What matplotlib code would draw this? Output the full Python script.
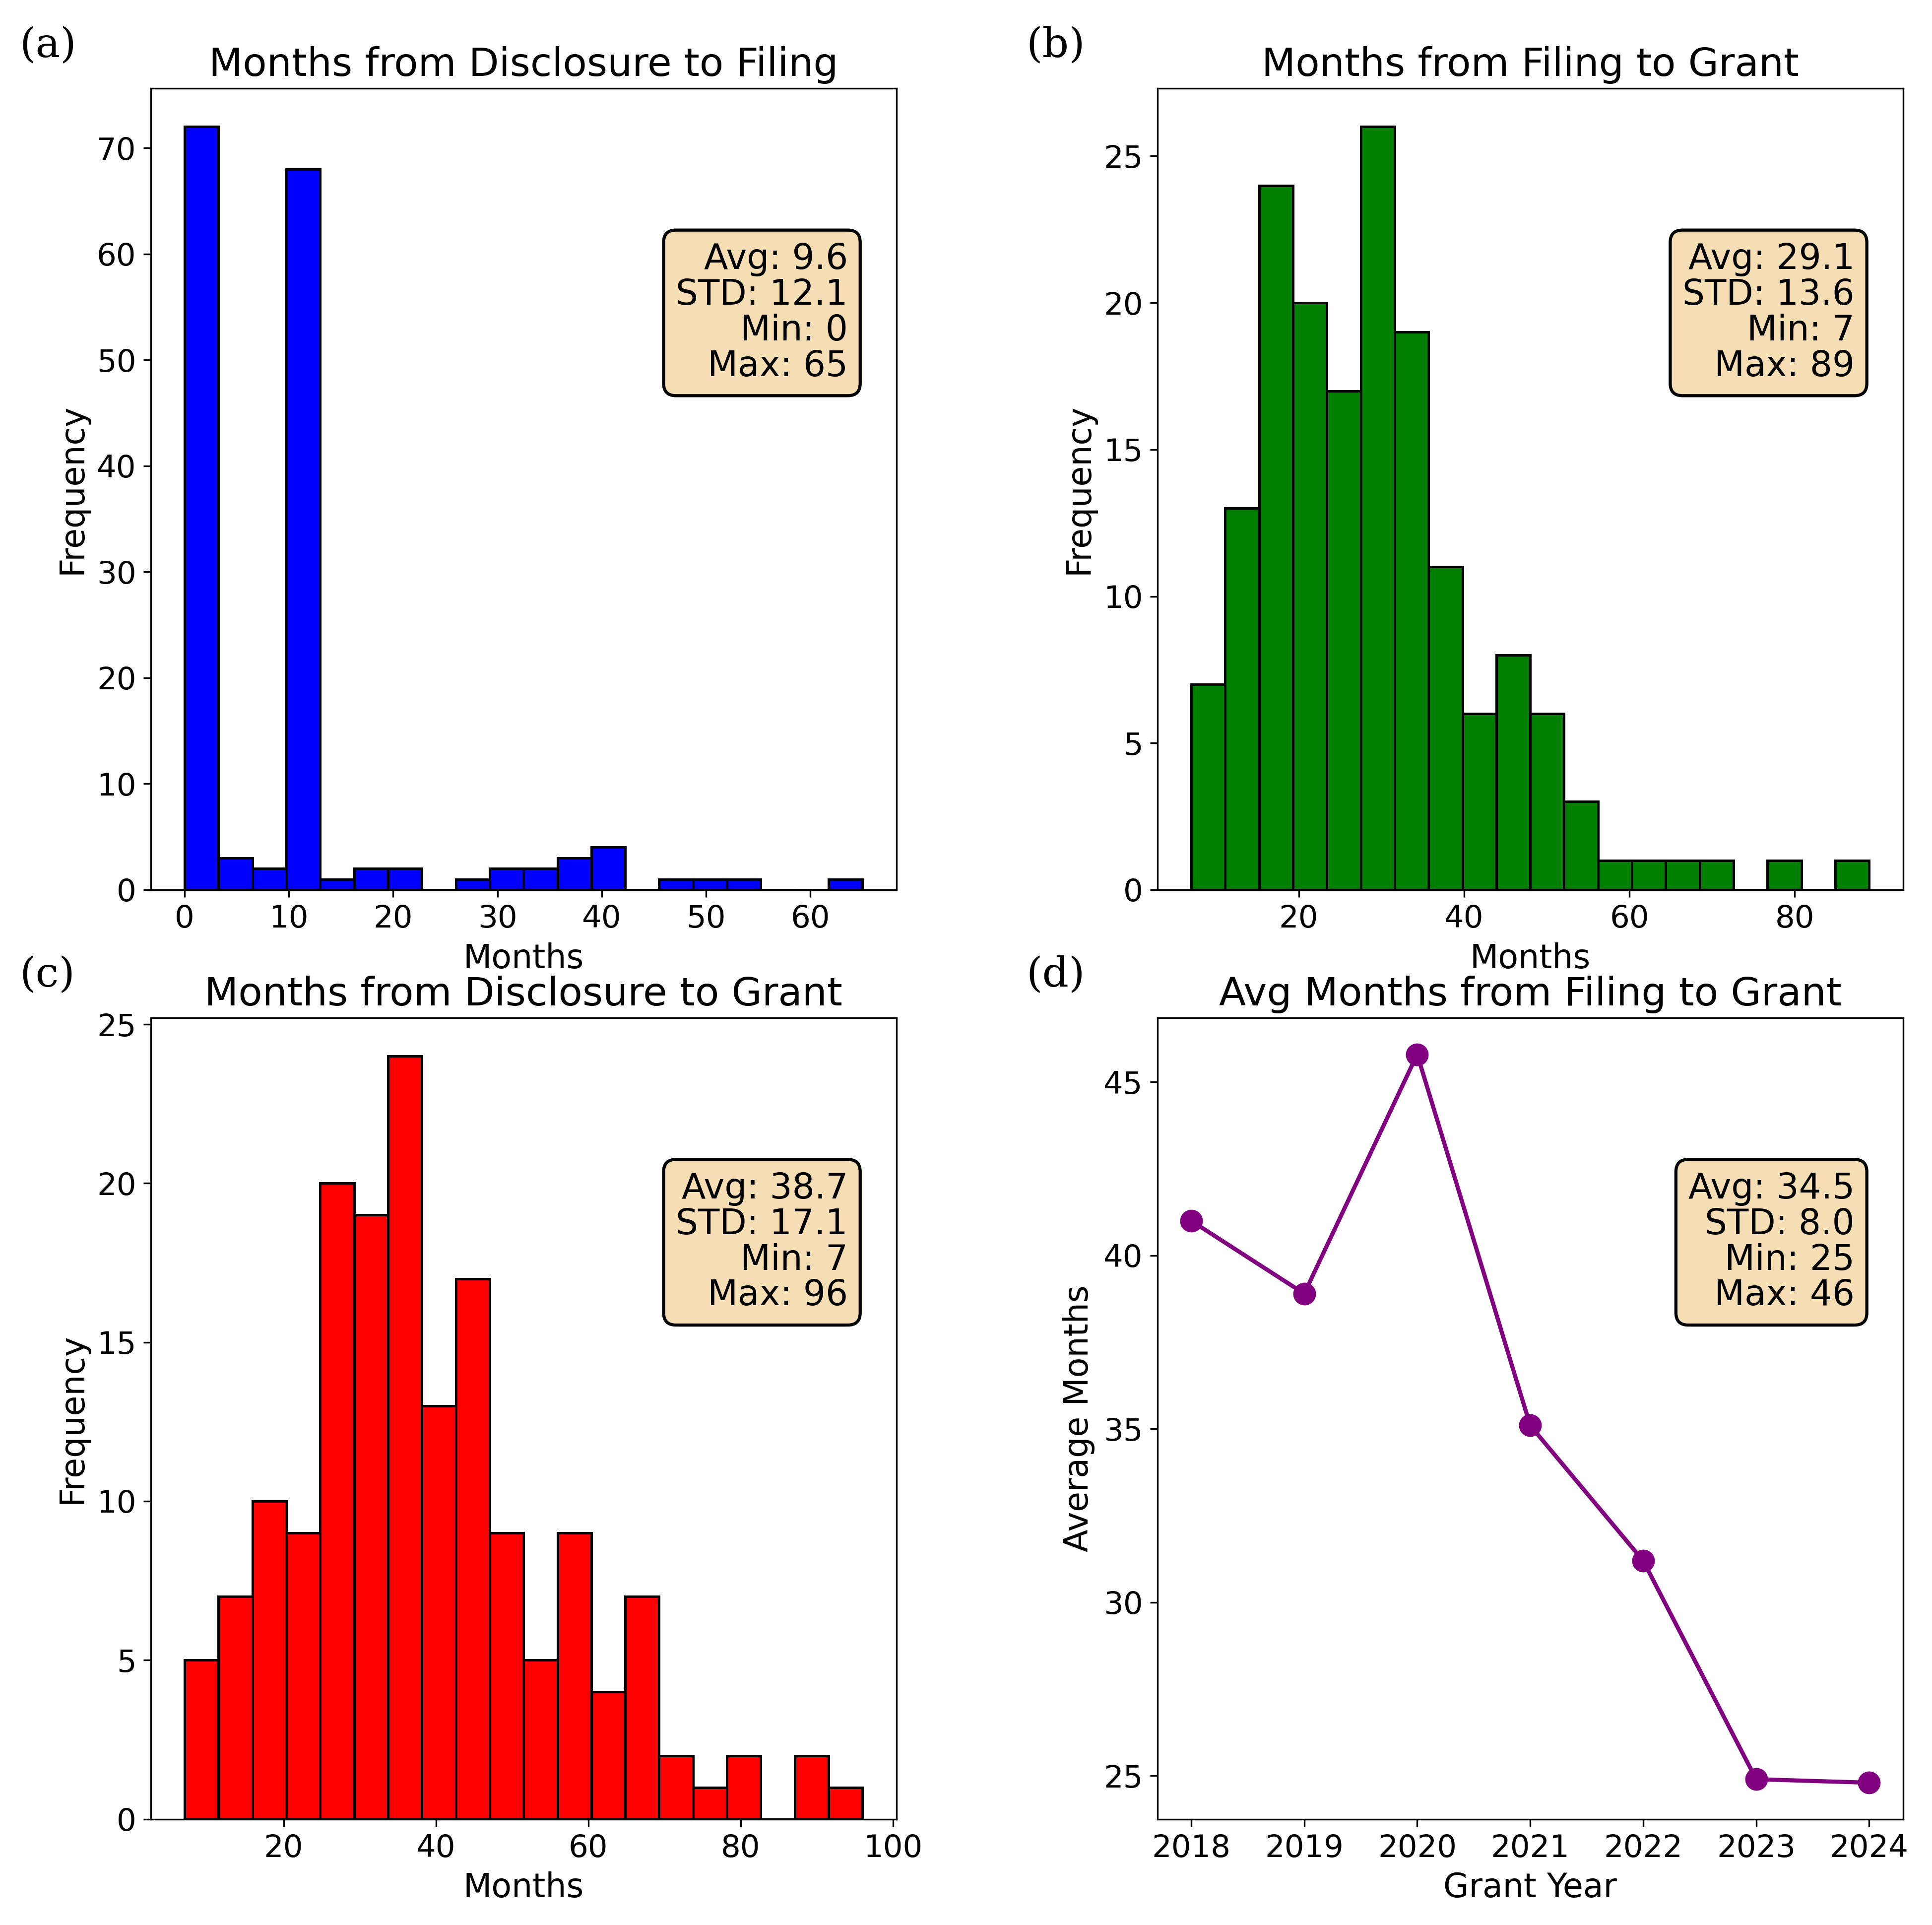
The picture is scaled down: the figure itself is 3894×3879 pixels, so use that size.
import numpy as np
import matplotlib.pyplot as plt

# histogram counts (20 bins each)
disc_filing_counts = [72, 3, 2, 68, 1, 2, 2, 0, 1, 2, 2, 3, 4, 0, 1, 1, 1, 0, 0, 1]
disc_filing_range = (0, 65)
filing_grant_counts = [7, 13, 24, 20, 17, 26, 19, 11, 6, 8, 6, 3, 1, 1, 1, 1, 0, 1, 0, 1]
filing_grant_range = (7, 89)
disc_grant_counts = [5, 7, 10, 9, 20, 19, 24, 13, 17, 9, 5, 9, 4, 7, 2, 1, 2, 0, 2, 1]
disc_grant_range = (7, 96)

years = [2018, 2019, 2020, 2021, 2022, 2023, 2024]
avg_months = [41.0, 38.9, 45.8, 35.1, 31.2, 24.9, 24.8]

stats = [
    "Avg: 9.6\nSTD: 12.1\nMin: 0\nMax: 65",
    "Avg: 29.1\nSTD: 13.6\nMin: 7\nMax: 89",
    "Avg: 38.7\nSTD: 17.1\nMin: 7\nMax: 96",
    "Avg: 34.5\nSTD: 8.0\nMin: 25\nMax: 46",
]

plt.rcParams["font.size"] = 15
fig, axs = plt.subplots(2, 2, figsize=(12.98, 12.93), dpi=300)
fig.subplots_adjust(left=0.078, right=0.985, top=0.954, bottom=0.055,
                    wspace=0.35, hspace=0.16)
axs = axs.ravel()


def hist_panel(ax, counts, rng, color, title):
    edges = np.linspace(rng[0], rng[1], len(counts) + 1)
    ax.bar(edges[:-1], counts, width=np.diff(edges), align="edge",
           color=color, edgecolor="black", linewidth=1.2)
    ax.set_title(title, fontsize=19)
    ax.set_xlabel("Months", fontsize=16)
    ax.set_ylabel("Frequency", fontsize=16)


hist_panel(axs[0], disc_filing_counts, disc_filing_range, "blue", "Months from Disclosure to Filing")
hist_panel(axs[1], filing_grant_counts, filing_grant_range, "green", "Months from Filing to Grant")
hist_panel(axs[2], disc_grant_counts, disc_grant_range, "red", "Months from Disclosure to Grant")
axs[2].set_xticks([20, 40, 60, 80, 100])

ax = axs[3]
ax.plot(years, avg_months, color="purple", marker="o", markersize=10, linewidth=2)
ax.set_title("Avg Months from Filing to Grant", fontsize=19)
ax.set_xlabel("Grant Year", fontsize=16)
ax.set_ylabel("Average Months", fontsize=16)
ax.set_xticks(years)

for a, s in zip(axs, stats):
    a.text(0.935, 0.72, s, transform=a.transAxes, ha="right", va="center",
           fontsize=17, linespacing=1.05,
           bbox=dict(boxstyle="round,pad=0.35", facecolor="wheat", edgecolor="black", linewidth=1.5))

for a, lab in zip(axs, "abcd"):
    pos = a.get_position()
    fig.text(pos.x0 - 0.068, pos.y1 + 0.012, "(%s)" % lab, fontsize=20,
             family="DejaVu Serif", va="bottom")

fig.savefig("out.png", dpi=300)
